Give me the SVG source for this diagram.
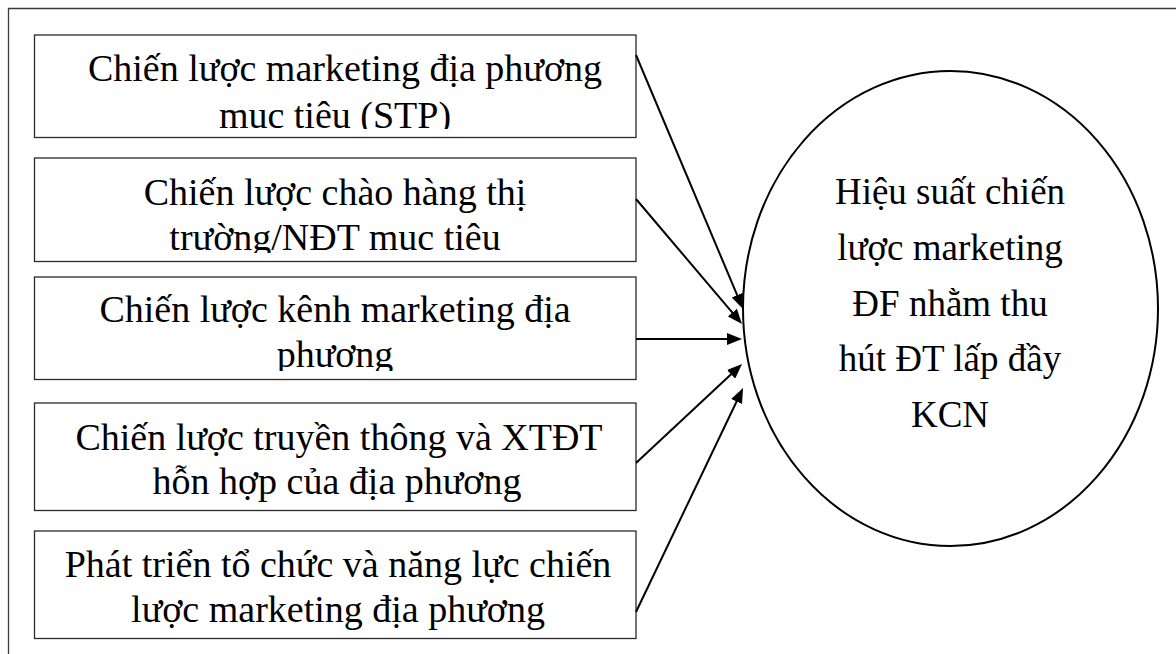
<svg xmlns="http://www.w3.org/2000/svg" width="1176" height="654" viewBox="0 0 1176 654">
  <style>
    .frame { fill: none; stroke: #3a3a3a; stroke-width: 1.3; }
    .box { fill: #ffffff; stroke: #2a2a2a; stroke-width: 1.3; }
    .goal { fill: #ffffff; stroke: #000000; stroke-width: 2; }
    .lbl { font-family: "Liberation Serif", "Times New Roman", serif; font-size: 38px; fill: #000000; text-anchor: middle; }
    .big { font-size: 37px; }
    .link { fill: none; stroke: #000000; stroke-width: 2; marker-end: url(#head); }
  </style>
  <defs>
    <marker id="head" markerUnits="userSpaceOnUse" markerWidth="15" markerHeight="12" refX="7" refY="6" orient="auto">
      <path d="M0,0 L15,6 L0,12 z" fill="#000000"/>
    </marker>
    <clipPath id="c1"><rect x="34.5" y="35" width="601.5" height="94"/></clipPath>
    <clipPath id="c2"><rect x="34.5" y="158" width="601.5" height="95"/></clipPath>
    <clipPath id="c3"><rect x="34.5" y="277" width="601.5" height="94"/></clipPath>
    <clipPath id="c4"><rect x="34.5" y="403" width="601.5" height="99"/></clipPath>
    <clipPath id="c5"><rect x="34.5" y="531" width="601.5" height="99"/></clipPath>
  </defs>

  <rect width="1176" height="654" fill="#ffffff"/>
  <!-- page frame -->
  <path class="frame" d="M8.5,654 V8.5 H1176"/>

  <g id="node-stp">
    <rect class="box" x="34.5" y="35" width="601.5" height="102.5"/>
    <g clip-path="url(#c1)">
      <text class="lbl" x="345" y="81">Chiến lược marketing địa phương</text>
      <text class="lbl" x="335" y="128">muc tiêu (STP)</text>
    </g>
  </g>

  <g id="node-offer">
    <rect class="box" x="34.5" y="158" width="601.5" height="103.5"/>
    <g clip-path="url(#c2)">
      <text class="lbl" x="335" y="205">Chiến lược chào hàng thị</text>
      <text class="lbl" x="335" y="250">trường/NĐT muc tiêu</text>
    </g>
  </g>

  <g id="node-channel">
    <rect class="box" x="34.5" y="277" width="601.5" height="102.5"/>
    <g clip-path="url(#c3)">
      <text class="lbl" x="335" y="322">Chiến lược kênh marketing địa</text>
      <text class="lbl" x="335" y="367">phương</text>
    </g>
  </g>

  <g id="node-promo">
    <rect class="box" x="34.5" y="403" width="601.5" height="107.5"/>
    <g clip-path="url(#c4)">
      <text class="lbl" x="339" y="450">Chiến lược truyền thông và XTĐT</text>
      <text class="lbl" x="337" y="494">hỗn hợp của địa phương</text>
    </g>
  </g>

  <g id="node-capacity">
    <rect class="box" x="34.5" y="531" width="601.5" height="107.5"/>
    <g clip-path="url(#c5)">
      <text class="lbl" x="338" y="577">Phát triển tổ chức và năng lực chiến</text>
      <text class="lbl" x="338" y="622">lược marketing địa phương</text>
    </g>
  </g>

  <g id="node-performance">
    <ellipse class="goal" cx="950.5" cy="308.5" rx="207.5" ry="237.5"/>
    <text class="lbl big" x="950" y="204">Hiệu suất chiến</text>
    <text class="lbl big" x="950" y="260">lược marketing</text>
    <text class="lbl big" x="950" y="316">ĐF nhằm thu</text>
    <text class="lbl big" x="950" y="371">hút ĐT lấp đầy</text>
    <text class="lbl big" x="950" y="427">KCN</text>
  </g>

  <g id="connectors">
    <line class="link" x1="636" y1="55" x2="739.9" y2="301.6"/>
    <line class="link" x1="636" y1="199" x2="736.8" y2="317.9"/>
    <line class="link" x1="636" y1="339" x2="734" y2="339"/>
    <line class="link" x1="636" y1="463" x2="736.2" y2="369.5"/>
    <line class="link" x1="636" y1="612" x2="739.6" y2="395.2"/>
  </g>
</svg>
